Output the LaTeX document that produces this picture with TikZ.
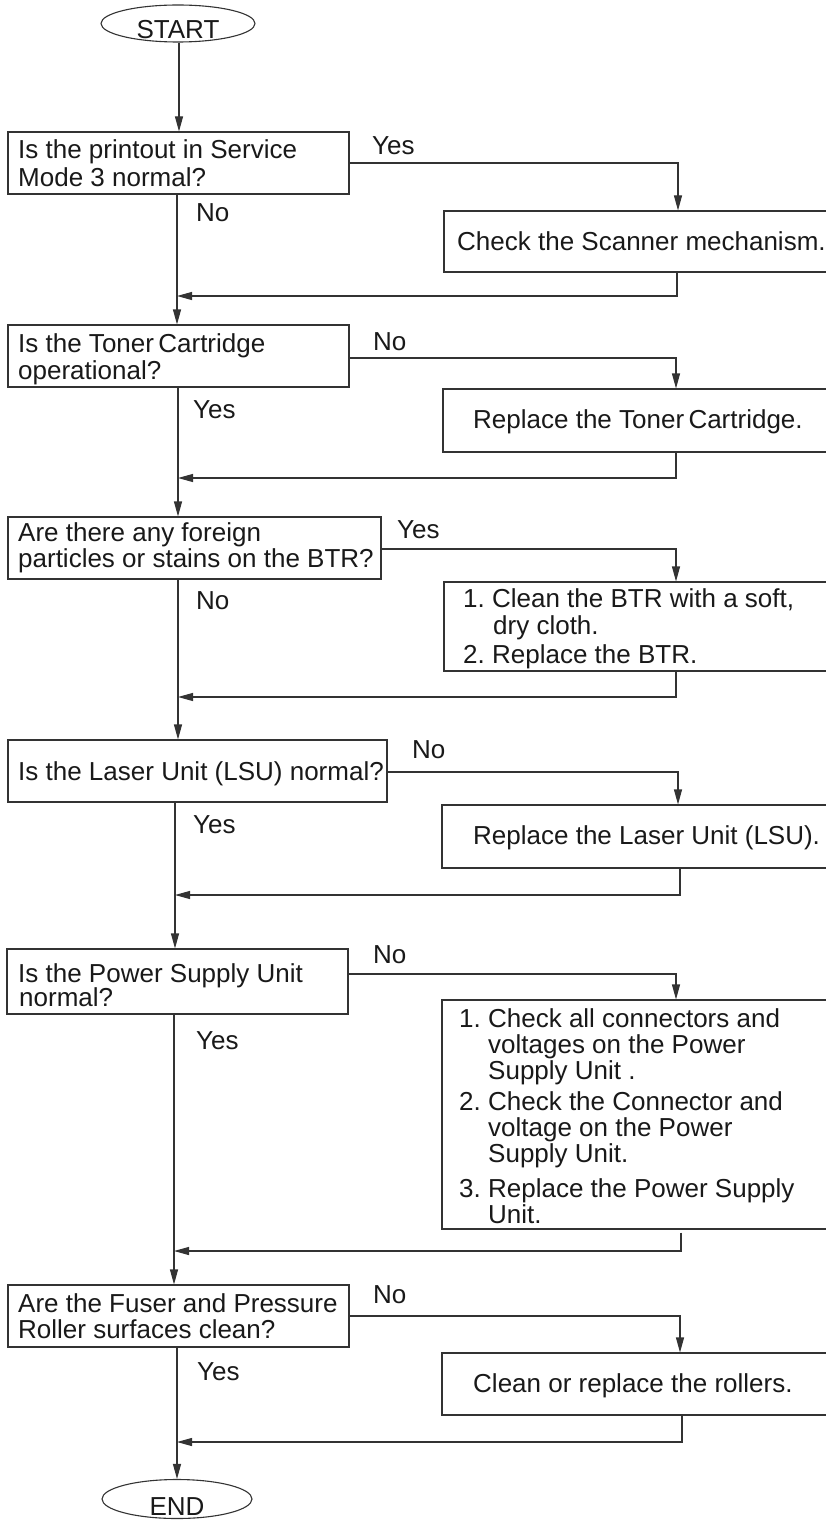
\documentclass[tikz,border=0pt]{standalone}
\usepackage{fontspec}
\setmainfont{Liberation Sans}
\usetikzlibrary{arrows.meta,shapes.geometric}
\frenchspacing
\begin{document}
\begin{tikzpicture}[x=1pt,y=-1pt,
  line/.style={draw=black!80,line width=1.1pt},
  arr/.style={line,-{Triangle[length=15pt,width=8pt]}},
  box/.style={draw=black!80,line width=1.1pt,rectangle,inner sep=0pt},
  term/.style={draw=black!80,line width=1.1pt,ellipse,inner sep=0pt},
  txt/.style={anchor=base west,inner sep=0pt,font=\fontsize{26}{28}\selectfont,text=black!90},
  ctxt/.style={anchor=base,inner sep=0pt,font=\fontsize{26}{28}\selectfont,text=black!90},
]
\useasboundingbox (0,0) rectangle (826,1522);
\fill[white] (0,0) rectangle (826,1522);

% terminals
\node[term,minimum width=154pt,minimum height=37pt] (start) at (178,23.5) {};
\node[ctxt] (tstart) at (178,39) {START};
\node[term,minimum width=150pt,minimum height=39pt] (end) at (177,1499) {};
\node[ctxt] (tend) at (177,1515) {END};

% question boxes
\node[box,minimum width=341pt,minimum height=62pt] (q1) at (178.5,163) {};
\node[txt] (q1t1) at (18,159) {Is the printout in Service};
\node[txt] (q1t2) at (18,187) {Mode 3 normal?};

\node[box,minimum width=341pt,minimum height=62pt] (q2) at (178.5,356) {};
\node[txt] (q2t1) at (18,352) {Is the Toner\,Cartridge};
\node[txt] (q2t2) at (18,379) {operational?};

\node[box,minimum width=373pt,minimum height=62pt] (q3) at (194.5,548) {};
\node[txt] (q3t1) at (18,541) {Are there any foreign};
\node[txt] (q3t2) at (18,567) {particles or stains on the BTR?};

\node[box,minimum width=379pt,minimum height=62pt] (q4) at (197.5,771) {};
\node[txt] (q4t1) at (18,780) {Is the Laser Unit (LSU) normal?};

\node[box,minimum width=341pt,minimum height=65pt] (q5) at (177.5,981.5) {};
\node[txt] (q5t1) at (18,982) {Is the Power Supply Unit};
\node[txt] (q5t2) at (19,1006) {normal?};

\node[box,minimum width=341pt,minimum height=62pt] (q6) at (178.5,1316) {};
\node[txt] (q6t1) at (18,1312) {Are the Fuser and Pressure};
\node[txt] (q6t2) at (18,1338) {Roller surfaces clean?};

% action boxes (right edge beyond the page)
\node[box,minimum width=400pt,minimum height=61pt] (a1) at (644,241.5) {};
\node[txt] (a1t) at (457,251) {Check the Scanner mechanism.};

\node[box,minimum width=401pt,minimum height=63pt] (a2) at (643.5,420.5) {};
\node[txt] (a2t) at (473,428) {Replace the Toner\,Cartridge.};

\node[box,minimum width=400pt,minimum height=89pt] (a3) at (644,626.5) {};
\node[txt] (a3t1) at (463,607) {1. Clean the BTR with a soft,};
\node[txt] (a3t2) at (493,634) {dry cloth.};
\node[txt] (a3t3) at (463,663) {2. Replace the BTR.};

\node[box,minimum width=402pt,minimum height=63pt] (a4) at (643,836.5) {};
\node[txt] (a4t) at (473,844) {Replace the Laser Unit (LSU).};

\node[box,minimum width=402pt,minimum height=229pt] (a5) at (643,1114.5) {};
\node[txt] (a5t1) at (459,1027) {1. Check all connectors and};
\node[txt] (a5t2) at (488,1053) {voltages on the Power};
\node[txt] (a5t3) at (488,1079) {Supply Unit .};
\node[txt] (a5t4) at (459,1110) {2. Check the Connector and};
\node[txt] (a5t5) at (488,1136) {voltage on the Power};
\node[txt] (a5t6) at (488,1162) {Supply Unit.};
\node[txt] (a5t7) at (459,1197) {3. Replace the Power Supply};
\node[txt] (a5t8) at (488,1223) {Unit.};

\node[box,minimum width=402pt,minimum height=62pt] (a6) at (643,1384) {};
\node[txt] (a6t) at (473,1392) {Clean or replace the rollers.};

% labels
\node[txt] (l1y) at (372,155) {Yes};
\node[txt] (l1n) at (196,222) {No};
\node[txt] (l2n) at (373,350) {No};
\node[txt] (l2y) at (193,418) {Yes};
\node[txt] (l3y) at (397,538) {Yes};
\node[txt] (l3n) at (196,609) {No};
\node[txt] (l4n) at (412,758) {No};
\node[txt] (l4y) at (193,833) {Yes};
\node[txt] (l5n) at (373,963) {No};
\node[txt] (l5y) at (196,1049) {Yes};
\node[txt] (l6n) at (373,1303) {No};
\node[txt] (l6y) at (197,1380) {Yes};

% main-line columns
\coordinate (m0) at (179,0);
\coordinate (m1) at (177,0);
\coordinate (m2) at (178,0);
\coordinate (m3) at (178,0);
\coordinate (m4) at (175,0);
\coordinate (m5) at (174,0);
\coordinate (m6) at (177,0);

% branch corners
\coordinate (b1) at (678,163);
\coordinate (b2) at (676,358);
\coordinate (b3) at (676,549);
\coordinate (b4) at (678,772);
\coordinate (b5) at (676,974);
\coordinate (b6) at (680,1316);

% return corners
\coordinate (r1) at (677,296);
\coordinate (r2) at (676,478);
\coordinate (r3) at (676,697);
\coordinate (r4) at (680,895);
\coordinate (r5) at (681,1251);
\coordinate (r6) at (682,1442);

% main line
\draw[arr] (start.south -| m0) -- (q1.north -| m0);
\draw[arr] (q1.south -| m1) -- (q2.north -| m1);
\draw[arr] (q2.south -| m2) -- (q3.north -| m2);
\draw[arr] (q3.south -| m3) -- (q4.north -| m3);
\draw[arr] (q4.south -| m4) -- (q5.north -| m4);
\draw[arr] (q5.south -| m5) -- (q6.north -| m5);
\draw[arr] (q6.south -| m6) -- (end.north -| m6);

% side branches
\draw[arr] (q1.east |- b1) -- (b1) -- (a1.north -| b1);
\draw[arr] (q2.east |- b2) -- (b2) -- (a2.north -| b2);
\draw[arr] (q3.east |- b3) -- (b3) -- (a3.north -| b3);
\draw[arr] (q4.east |- b4) -- (b4) -- (a4.north -| b4);
\draw[arr] (q5.east |- b5) -- (b5) -- (a5.north -| b5);
\draw[arr] (q6.east |- b6) -- (b6) -- (a6.north -| b6);

% returns
\draw[arr] (a1.south -| r1) -- (r1) -- (r1 -| m1);
\draw[arr] (a2.south -| r2) -- (r2) -- (r2 -| m2);
\draw[arr] (a3.south -| r3) -- (r3) -- (r3 -| m3);
\draw[arr] (a4.south -| r4) -- (r4) -- (r4 -| m4);
\draw[arr] ([yshift=-3pt]a5.south -| r5) -- (r5) -- (r5 -| m5);
\draw[arr] (a6.south -| r6) -- (r6) -- (r6 -| m6);
\end{tikzpicture}
\end{document}
